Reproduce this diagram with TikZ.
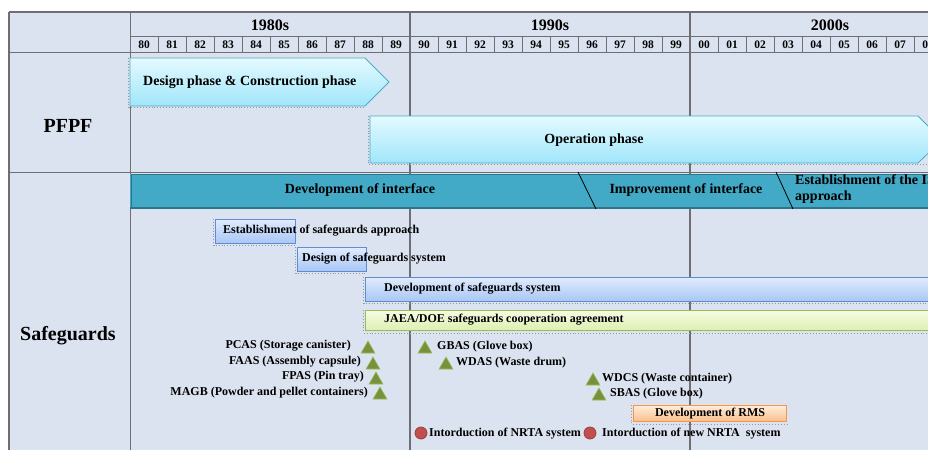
\documentclass[tikz,border=0pt]{standalone}
\usepackage{fontspec}
\setmainfont{Liberation Serif}
\usetikzlibrary{shapes.geometric}

\definecolor{bgpanel}{RGB}{220,227,240}
\definecolor{gridgray}{RGB}{110,110,115}
\definecolor{phasetop}{RGB}{228,250,255}
\definecolor{phasebot}{RGB}{160,230,250}
\definecolor{phaseedge}{RGB}{75,172,198}
\definecolor{ifacefill}{RGB}{66,169,198}
\definecolor{ifaceedge}{RGB}{45,118,138}
\definecolor{sgtop}{RGB}{224,235,253}
\definecolor{sgbot}{RGB}{168,198,245}
\definecolor{sgedge}{RGB}{95,140,210}
\definecolor{cooptop}{RGB}{246,251,226}
\definecolor{coopbot}{RGB}{220,239,176}
\definecolor{coopedge}{RGB}{155,187,89}
\definecolor{rmstop}{RGB}{255,236,218}
\definecolor{rmsbot}{RGB}{250,190,140}
\definecolor{rmsedge}{RGB}{247,150,70}
\definecolor{trifill}{RGB}{118,146,60}
\definecolor{triedge}{RGB}{155,187,89}
\definecolor{nrtafill}{RGB}{192,80,77}
\definecolor{nrtaedge}{RGB}{160,60,58}

\begin{document}
\begin{tikzpicture}[x=1pt, y=-1pt, % pixel-like units, y downwards
    gridline/.style={line width=1pt, draw=gridgray},
    decadelbl/.style={inner sep=0pt, font=\fontsize{16}{18}\selectfont\bfseries},
    yearlbl/.style={inner sep=0pt, font=\fontsize{11.5}{13}\selectfont\bfseries},
    rowlbl/.style={inner sep=0pt, font=\fontsize{20}{24}\selectfont\bfseries},
    bartxt/.style={inner sep=0pt, font=\fontsize{14}{16}\selectfont\bfseries, align=left},
    smalltxt/.style={inner sep=0pt, font=\fontsize{12}{14}\selectfont\bfseries},
    phasebar/.style={draw=phaseedge, line width=0.8pt, top color=phasetop, bottom color=phasebot},
    shadowline/.style={draw=gray!80, dotted, line width=0.9pt},
    sgbox/.style={draw=sgedge, line width=0.8pt, top color=sgtop, bottom color=sgbot, inner sep=0pt, anchor=north west},
    coopbox/.style={draw=coopedge, line width=1pt, top color=cooptop, bottom color=coopbot, inner sep=0pt, anchor=north west},
    rmsbox/.style={draw=rmsedge, line width=1pt, top color=rmstop, bottom color=rmsbot, inner sep=0pt, anchor=north west},
    tri/.style={regular polygon, regular polygon sides=3, minimum size=16pt, inner sep=0pt, fill=trifill, draw=triedge, line width=0.6pt},
    nrta/.style={circle, minimum size=12pt, inner sep=0pt, fill=nrtafill, draw=nrtaedge, line width=0.8pt}]

    \useasboundingbox (0,0) rectangle (928,450);
    \clip (0,0) rectangle (928,450);

    % Panel
    \fill[bgpanel] (9,12) rectangle (940,450);

    % Grid
    \draw[gridline, line width=1.5pt] (9,12) -- (940,12);
    \draw[gridline] (130,36) -- (940,36);
    \draw[gridline] (9,52) -- (940,52);
    \draw[gridline] (9,172) -- (940,172);
    \draw[gridline, line width=1.5pt] (9,12) -- (9,450);
    \draw[gridline] (130,12) -- (130,450);
    \draw[gridline, line width=1.2pt] (410,12) -- (410,450);
    \draw[gridline, line width=1.2pt] (690,12) -- (690,450);

    % Decades and years
    \node[decadelbl] (d80) at (270,25) {1980s};
    \node[decadelbl] (d90) at (550,25) {1990s};
    \node[decadelbl] (d00) at (830,25) {2000s};
    \foreach \yr [count=\i from 0] in {80,81,82,83,84,85,86,87,88,89,90,91,92,93,94,95,96,97,98,99,00,01,02,03,04,05,06,07,08} {
        \draw[gridline, line width=0.8pt] (130+28*\i,36) -- (130+28*\i,52);
        \node[yearlbl] (y\i) at (144+28*\i,44.5) {\yr};
    }

    % Row labels
    \node[rowlbl] (pfpf) at (68,126) {PFPF};
    \node[rowlbl] (sg) at (68,336) {Safeguards};

    % PFPF phases
    \draw[shadowline] (128.5,58) -- (128.5,107.5) -- (366,107.5);
    \draw[phasebar] (130,58) -- (365,58) -- (389,82) -- (365,106) -- (130,106) -- cycle;
    \node[bartxt, anchor=west] (design) at (143,82) {Design phase \& Construction phase};
    \draw[shadowline] (368.5,116) -- (368.5,164.5) -- (940,164.5);
    \draw[phasebar] (370,116) -- (918,116) -- (942,140) -- (918,163) -- (370,163) -- cycle;
    \node[bartxt] (operation) at (594,140) {Operation phase};

    % Interface bar
    \fill[ifacefill] (130,174) rectangle (940,208);
    \draw[ifaceedge, line width=1pt] (940,174) -- (131,174) -- (131,208);
    \draw[ifaceedge, line width=2pt] (130,207.5) -- (940,207.5);
    \draw[black, line width=0.8pt] (578,172) -- (596,209);
    \draw[black, line width=0.8pt] (776,172) -- (793,209);
    \node[bartxt] (devif) at (360,190) {Development of interface};
    \node[bartxt] (impif) at (686,190) {Improvement of interface};
    \node[bartxt, anchor=west] (estis) at (795,189) {Establishment of the IS\\approach};

    % Safeguards system
    \node[sgbox, minimum width=80pt, minimum height=24pt] (estbox) at (215,219) {};
    \draw[shadowline] ([xshift=-1.5pt]estbox.north west) |- ([yshift=-2pt]estbox.south east);
    \node[smalltxt, anchor=west] (esttxt) at (223,231) {Establishment of safeguards approach};
    \node[sgbox, minimum width=69pt, minimum height=24pt] (desbox) at (297,247) {};
    \draw[shadowline] ([xshift=-1.5pt]desbox.north west) |- ([yshift=-2pt]desbox.south east);
    \node[smalltxt, anchor=west] (destxt) at (302,259) {Design of safeguards system};
    \node[sgbox, minimum width=580pt, minimum height=24pt] (devbox) at (365,277) {};
    \draw[shadowline] ([xshift=-1.5pt]devbox.north west) |- ([yshift=-2pt]devbox.south east);
    \node[smalltxt, anchor=west] (devtxt) at (384,289) {Development of safeguards system};
    \node[coopbox, minimum width=580pt, minimum height=20pt] (coopbox) at (365,310) {};
    \draw[shadowline] ([xshift=-1.5pt]coopbox.north west) |- ([yshift=-2pt]coopbox.south east);
    \node[smalltxt, anchor=west] (cooptxt) at (384,320) {JAEA/DOE safeguards cooperation agreement};

    % Assay systems
    \node[tri] (pcas) at (368,349) {};
    \node[smalltxt, anchor=east] (pcastxt) at (351,346) {PCAS (Storage canister)};
    \node[tri] (faas) at (373,365) {};
    \node[smalltxt, anchor=east] (faastxt) at (361,362) {FAAS (Assembly capsule)};
    \node[tri] (fpas) at (376,380) {};
    \node[smalltxt, anchor=east] (fpastxt) at (364,377) {FPAS (Pin tray)};
    \node[tri] (magb) at (380,395) {};
    \node[smalltxt, anchor=east] (magbtxt) at (368,393) {MAGB (Powder and pellet containers)};
    \node[tri] (gbas) at (425,349) {};
    \node[smalltxt, anchor=west] (gbastxt) at (437,347) {GBAS (Glove box)};
    \node[tri] (wdas) at (446,365) {};
    \node[smalltxt, anchor=west] (wdastxt) at (456,363) {WDAS (Waste drum)};
    \node[tri] (wdcs) at (593,381) {};
    \node[smalltxt, anchor=west] (wdcstxt) at (602,379) {WDCS (Waste container)};
    \node[tri] (sbas) at (599,396) {};
    \node[smalltxt, anchor=west] (sbastxt) at (610,394) {SBAS (Glove box)};

    % RMS and NRTA
    \node[rmsbox, minimum width=153pt, minimum height=16pt] (rmsbox) at (633,405) {};
    \draw[shadowline] ([xshift=-1.5pt]rmsbox.north west) |- ([yshift=-2pt]rmsbox.south east);
    \node[smalltxt] (rmstxt) at (rmsbox.center) {Development of RMS};
    \node[nrta] (nrta1) at (421,433) {};
    \node[smalltxt, anchor=west] (nrta1txt) at (429,434) {Intorduction of NRTA system};
    \node[nrta] (nrta2) at (590,433) {};
    \node[smalltxt, anchor=west] (nrta2txt) at (602,434) {Intorduction of new NRTA~ system};
\end{tikzpicture}
\end{document}
